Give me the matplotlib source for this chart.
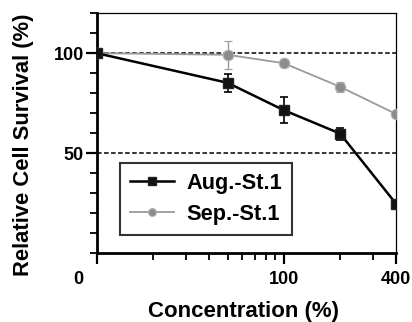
import matplotlib
matplotlib.use("Agg")
import matplotlib.pyplot as plt
import matplotlib.transforms as mtransforms
from matplotlib.lines import Line2D
from matplotlib.ticker import FixedLocator, NullFormatter

plt.rcParams['font.family'] = ['Liberation Sans', 'DejaVu Sans']
plt.rcParams['font.weight'] = 'bold'

conc = [10, 50, 100, 200, 400]
aug_vals = [100, 85.2, 71.5, 59.8, 24.5]
aug_err = [1.0, 4.5, 6.5, 3.0, 1.0]
sep_vals = [100, 99.2, 95.0, 83.2, 69.5]
sep_err = [1.0, 7.0, 2.0, 2.5, 1.5]
series_names = ["Aug.-St.1", "Sep.-St.1"]
xtick_vals = [10, 100, 400]
xtick_labels = ["0", "100", "400"]
ytick_vals = [50, 100]
ytick_labels = ["50", "100"]
ref_levels = [50, 100]

aug_style = dict(color='black', lw=1.8, marker='s', ms=7.5, mfc='#111111', mec='#222222')
sep_style = dict(color='#9a9a9a', lw=1.3, marker='o', ms=7.5, mfc='#8c8c8c', mec='#b0b0b0', mew=0.8)

fig = plt.figure(figsize=(4.12, 3.22), dpi=100)
ax = fig.add_axes([0.235, 0.214, 0.727, 0.745])

for lvl in ref_levels:
    ax.axhline(lvl, color='black', lw=1.1, ls=(0, (3, 1.6)), zorder=1)

ax.errorbar(conc, sep_vals, yerr=sep_err, capsize=3, elinewidth=1.0, capthick=1.0,
            zorder=3, **sep_style)
ax.errorbar(conc, aug_vals, yerr=aug_err, capsize=3, elinewidth=1.2, capthick=1.2,
            zorder=4, **aug_style)

ax.set_xscale('log')
ax.set_xlim(10, 400)
ax.set_ylim(0, 120)

ax.xaxis.set_major_locator(FixedLocator(xtick_vals))
ax.set_xticklabels(xtick_labels)
ax.xaxis.set_minor_locator(FixedLocator([20, 30, 40, 50, 60, 70, 80, 90, 200, 300]))
ax.xaxis.set_minor_formatter(NullFormatter())
ax.set_yticks(ytick_vals)
ax.set_yticklabels(ytick_labels)
ax.yaxis.set_minor_locator(FixedLocator([0, 10, 20, 30, 40, 60, 70, 80, 90, 110, 120]))

ax.tick_params(axis='both', which='major', direction='out', length=8, width=1.6,
               labelsize=13, pad=1.5)
ax.tick_params(axis='both', which='minor', direction='out', length=5, width=1.3)
ax.tick_params(axis='x', which='major', pad=5)

for s in ['left', 'bottom']:
    ax.spines[s].set_linewidth(2.0)
for s in ['top', 'right']:
    ax.spines[s].set_linewidth(0.9)

# shift the "0" label left
lbl0 = ax.get_xticklabels()[0]
lbl0.set_transform(lbl0.get_transform() + mtransforms.ScaledTranslation(-19/100, 0, fig.dpi_scale_trans))

ax.set_xlabel("Concentration (%)", fontsize=16, fontweight='bold')
ax.set_ylabel("Relative Cell Survival (%)", fontsize=15.8, fontweight='bold')
ax.xaxis.set_label_coords(0.49, -0.245)
ax.yaxis.set_label_coords(-0.246, 0.453)
ax.yaxis.label.set_verticalalignment('center')
ax.xaxis.label.set_verticalalignment('center')

handles = [Line2D([], [], **aug_style), Line2D([], [], **sep_style)]
leg = ax.legend(handles, series_names, loc='upper left', bbox_to_anchor=(0.078, 0.375),
                borderaxespad=0, frameon=True, fancybox=False, edgecolor='black',
                handlelength=2.0, handletextpad=0.6, labelspacing=0.45, borderpad=0.45,
                markerscale=0.75, prop={'weight': 'bold', 'size': 15.7})
leg.get_frame().set_linewidth(1.5)

fig.savefig("out.png", dpi=100)
